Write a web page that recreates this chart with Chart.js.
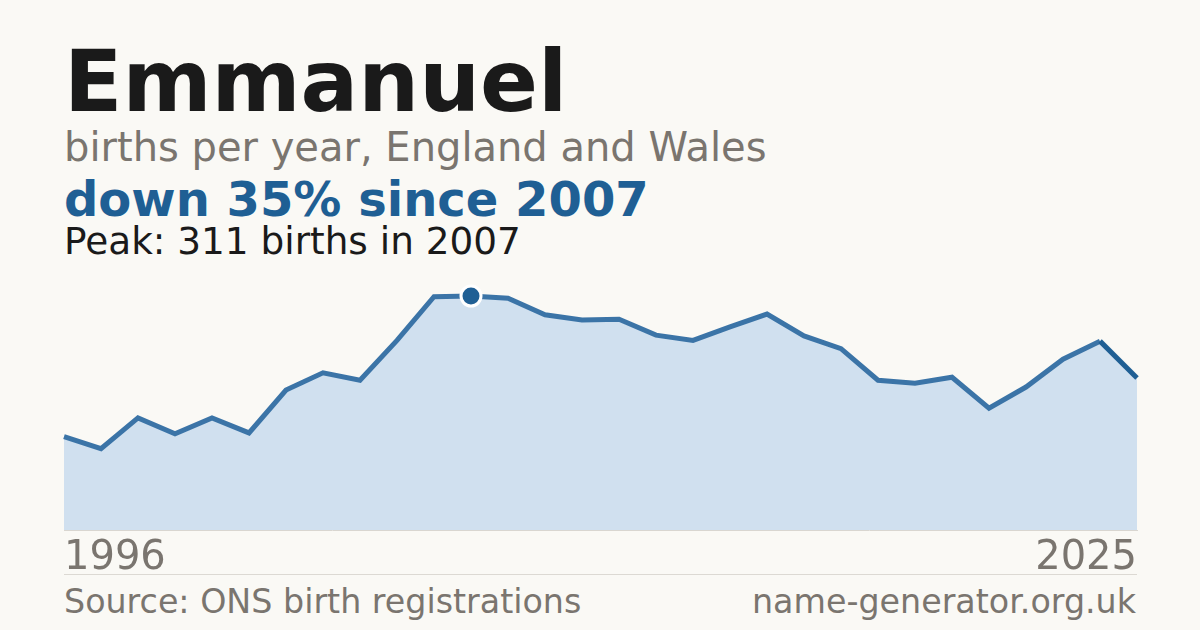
<!DOCTYPE html>
<html>
<head>
<meta charset="utf-8">
<script src="https://cdn.jsdelivr.net/npm/chart.js@4/dist/chart.umd.min.js"></script>
<style>
  html, body { margin: 0; padding: 0; }
  body { width: 1200px; height: 630px; background: #faf9f5; position: relative; overflow: hidden;
         font-family: "DejaVu Sans", sans-serif; }
  .t { position: absolute; left: 64px; line-height: 1; white-space: nowrap; }
  #title { top: 39px; font-size: 85.5px; font-weight: bold; color: #1a1a1a; }
  #sub { top: 127px; font-size: 40px; color: #7a756f; }
  #change { top: 175px; font-size: 48px; font-weight: bold; color: #1f5f94; }
  #peak { top: 223px; font-size: 37.4px; color: #1a1a1a; }
  #rule { position: absolute; left: 64px; top: 574px; width: 1073px; height: 1px; background: #dcd9d3; }
  #source { top: 585px; font-size: 33.3px; color: #7a756f; }
  #site { top: 585px; left: auto; right: 64px; font-size: 33.3px; color: #7a756f; }
  #wrap { position: absolute; left: 0; top: 0; width: 1200px; height: 630px; }
</style>
</head>
<body>
<div class="t" id="title">Emmanuel</div>
<div class="t" id="sub">births per year, England and Wales</div>
<div class="t" id="change">down 35% since 2007</div>
<div class="t" id="peak">Peak: 311 births in 2007</div>
<div id="rule"></div>
<div class="t" id="source">Source: ONS birth registrations</div>
<div class="t" id="site">name-generator.org.uk</div>
<div id="wrap"><canvas id="canvas"></canvas></div>
<script>
var years = [1996, 1997, 1998, 1999, 2000, 2001, 2002, 2003, 2004, 2005,
             2006, 2007, 2008, 2009, 2010, 2011, 2012, 2013, 2014, 2015,
             2016, 2017, 2018, 2019, 2020, 2021, 2022, 2023, 2024, 2025];
var births = [124, 108, 149, 128, 149, 129, 186, 209, 199, 252,
              310, 311, 308, 286, 279, 280, 259, 252, 270, 287,
              258, 241, 199, 195, 203, 162, 190, 227, 251, 202];
var peakIndex = 11;
var lastIndex = births.length - 1;

var blue = '#1f5f94';

var pointSizes = births.map(function(v, i){ return i === peakIndex ? 10 : 0; });

new Chart(document.getElementById('canvas'), {
  type: 'line',
  data: {
    labels: years,
    datasets: [{
      data: births,
      fill: 'origin',
      backgroundColor: '#d0e0ef',
      borderColor: '#3b74a7',
      borderWidth: 5,
      tension: 0,
      clip: false,
      pointRadius: pointSizes,
      pointHoverRadius: pointSizes,
      pointBackgroundColor: blue,
      pointBorderColor: '#ffffff',
      pointBorderWidth: 3,
      segment: {
        borderColor: function(ctx){ return ctx.p1DataIndex === lastIndex ? blue : undefined; }
      }
    }]
  },
  options: {
    responsive: true,
    maintainAspectRatio: false,
    animation: false,
    events: [],
    layout: { padding: { left: 64, right: 63, top: 296, bottom: 42 } },
    plugins: { legend: { display: false }, tooltip: { enabled: false } },
    scales: {
      x: {
        grid: { display: false, drawTicks: false },
        border: { display: true, color: '#d9d6d0', width: 1 },
        ticks: {
          autoSkip: false,
          maxRotation: 0,
          align: 'inner',
          padding: 5,
          color: '#7a756f',
          font: { family: 'DejaVu Sans', size: 40 },
          callback: function(v, i){ return (i === 0 || i === lastIndex) ? years[i] : ''; }
        }
      },
      y: {
        display: false,
        min: 0,
        max: 311
      }
    }
  }
});
</script>
</body>
</html>
